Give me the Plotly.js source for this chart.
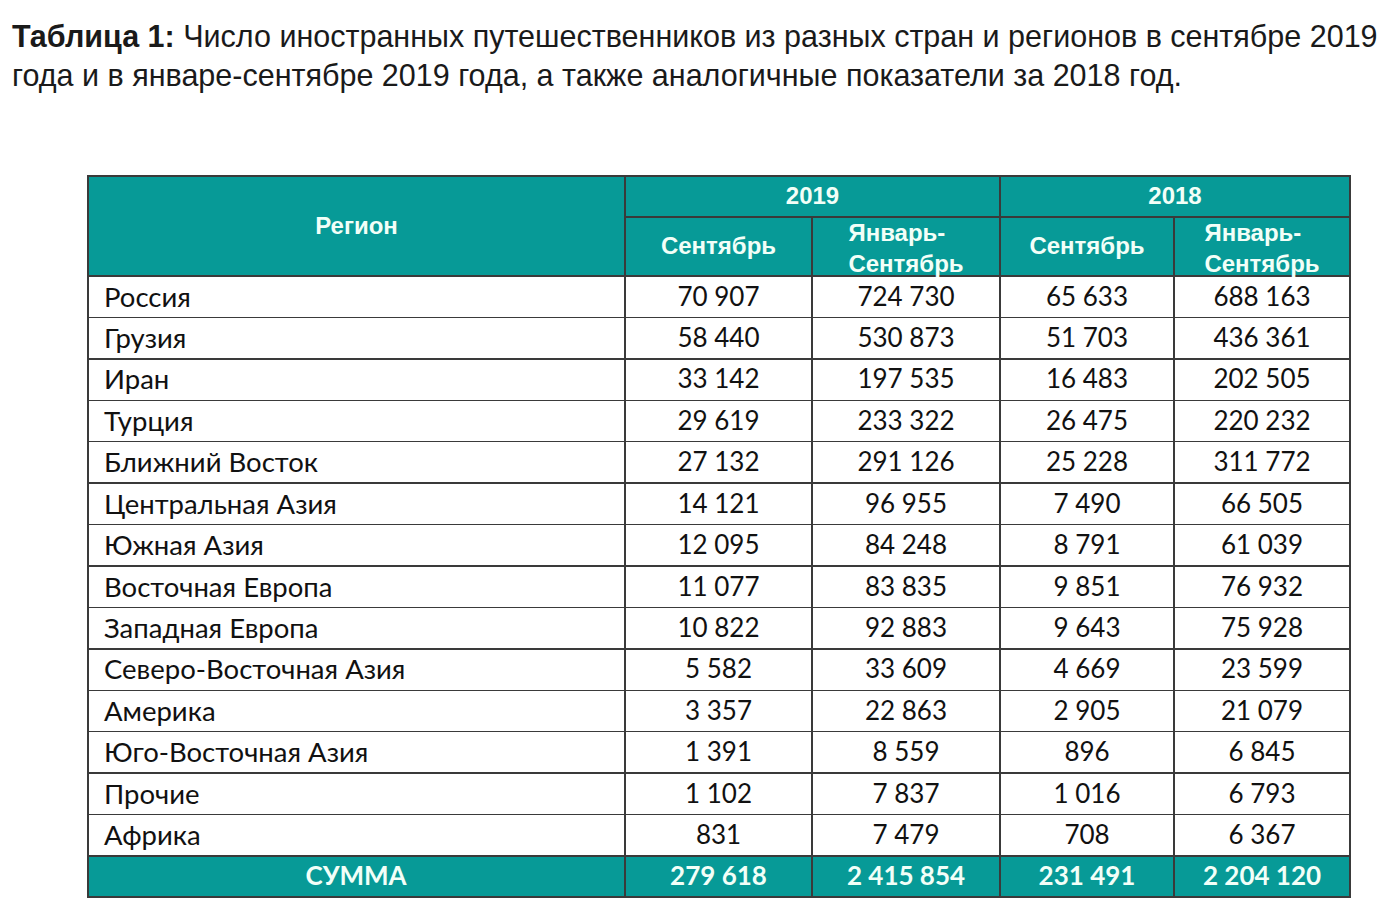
<!DOCTYPE html>
<html>
<head>
<meta charset="utf-8">
<script src="https://cdn.plot.ly/plotly-3.0.1.min.js"></script>
<style>html,body{margin:0;padding:0;background:#fff;}#chart{width:1392px;height:924px;}</style>
</head>
<body>
<div id="chart"></div>
<div id="err" style="position:absolute;left:0;top:905px;font:12px monospace;color:red"></div>
<script>
// ---- data ----
var regions = ["Россия","Грузия","Иран","Турция","Ближний Восток","Центральная Азия","Южная Азия",
  "Восточная Европа","Западная Европа","Северо-Восточная Азия","Америка","Юго-Восточная Азия","Прочие","Африка"];
var sep2019 = [70907,58440,33142,29619,27132,14121,12095,11077,10822,5582,3357,1391,1102,831];
var janSep2019 = [724730,530873,197535,233322,291126,96955,84248,83835,92883,33609,22863,8559,7837,7479];
var sep2018 = [65633,51703,16483,26475,25228,7490,8791,9851,9643,4669,2905,896,1016,708];
var janSep2018 = [688163,436361,202505,220232,311772,66505,61039,76932,75928,23599,21079,6845,6793,6367];
var totalLabel = "СУММА";
var totals = [279618, 2415854, 231491, 2204120];
var years = ["2019", "2018"];
var subHeaders = ["Сентябрь", "Январь-<br>Сентябрь", "Сентябрь", "Январь-<br>Сентябрь"];
var regionHeader = "Регион";
var titleBold = "Таблица 1:";
var titleLine1 = " Число иностранных путешественников из разных стран и регионов в сентябре 2019";
var titleLine2 = "года и в январе-сентябре 2019 года, а также аналогичные показатели за 2018 год.";

window.onerror = function(m){ document.getElementById("err").textContent += m + " | "; };

// ---- helpers ----
function fmt(n){ return String(n).replace(/\B(?=(\d{3})+(?!\d))/g, " "); }
function bold(s){ return "<b>" + s + "</b>"; }
function blanks(n){ var a = []; for (var i = 0; i < n; i++) a.push(""); return a; }
function emptyCells(n){ var a = []; for (var i = 0; i < n; i++) a.push([]); return a; }
var W = 1392, H = 924;
var TEAL = "#079a97", LINE = "#3a3a3a", HEADTXT = "#f2fff8", NONE = "rgba(0,0,0,0)";
var colW = [537, 187, 188, 174, 176];
var x0 = 88, x1 = 1350, xSplit = x0 + colW[0];
var yTop = 176, yMid = 217, yBody = 276, yTotal = 856, totalH = 41;
var rowH = (yTotal - yBody) / regions.length;
var textPadL = 8;
function px(x){ return x / W; }
function py(y){ return 1 - y / H; }

var headerFont = {family: "Liberation Sans, Arial, sans-serif", size: 24, color: HEADTXT};
var bodyFont = {family: "Lato, sans-serif", size: [27.5, 26, 26, 26, 26], color: "#111111"};
var totalFont = {family: "Lato, sans-serif", size: 26, color: HEADTXT};
var lineSpec = {color: LINE, width: 1.5};
var noLine = {color: NONE, width: 0};

function gridRow(top, h, cols, widths, xa, xb, fill, values, font, align) {
  return {
    type: "table",
    domain: {x: [px(xa), px(xb)], y: [py(top + h + 3), py(top)]},
    columnwidth: widths,
    header: {values: values || blanks(cols), height: h, fill: {color: fill}, line: lineSpec,
             font: font || headerFont, align: align || "center"},
    cells: {values: emptyCells(cols)}
  };
}
function textRow(top, widths, xa, xb, values, font, align) {
  return {
    type: "table",
    domain: {x: [px(xa), px(xb)], y: [py(Math.min(top + 90, H)), py(top)]},
    columnwidth: widths,
    header: {values: values, height: 30, fill: {color: NONE}, line: noLine, font: font, align: align},
    cells: {values: emptyCells(values.length)}
  };
}

var traces = [];

// top header row: years spanning two columns each
traces.push(gridRow(yTop, yMid - yTop, 3, [colW[0], colW[1] + colW[2], colW[3] + colW[4]], x0, x1, TEAL));
// sub-header row grid
traces.push(gridRow(yMid, yBody - yMid, 5, colW, x0, x1, TEAL));
// body row grids
regions.forEach(function(r, i) {
  traces.push(gridRow(yBody + i * rowH, rowH, 5, colW, x0, x1, "#ffffff"));
});
// total row grid
traces.push(gridRow(yTotal, totalH, 5, colW, x0, x1, TEAL));
// region header box spanning both header rows
traces.push(gridRow(yTop, yBody - yTop, 1, [colW[0]], x0, xSplit, TEAL));

// header texts
traces.push(textRow(yTop - 2, [colW[0], colW[1] + colW[2], colW[3] + colW[4]], x0, x1,
  ["", bold(years[0]), bold(years[1])], headerFont, "center"));
traces.push(textRow(204, [colW[0]], x0, xSplit, [bold(regionHeader)], headerFont, "center"));
traces.push(textRow(224, colW.slice(1), xSplit, x1,
  subHeaders.map(function(s){ return s.indexOf("<br>") < 0 ? bold(s) : ""; }), headerFont, "center"));
traces.push(textRow(211, colW.slice(1), xSplit, x1,
  subHeaders.map(function(s){ return s.indexOf("<br>") >= 0 ? bold(s) : ""; }), headerFont, "center"));

// body texts
var bodyWidths = [colW[0] - textPadL].concat(colW.slice(1));
regions.forEach(function(r, i) {
  traces.push(textRow(yBody + i * rowH + 2, bodyWidths, x0 + textPadL, x1,
    [r, fmt(sep2019[i]), fmt(janSep2019[i]), fmt(sep2018[i]), fmt(janSep2018[i])],
    bodyFont, ["left", "center", "center", "center", "center"]));
});
// total texts
traces.push(textRow(yTotal - 5.5, colW, x0, x1,
  [bold(totalLabel)].concat(totals.map(function(t){ return bold(fmt(t)); })), totalFont, "center"));

var titleFont = {family: "Liberation Sans, Arial, sans-serif", size: 30.5, color: "#1a1a1a"};
var layout = {
  width: W, height: H,
  margin: {l: 0, r: 0, t: 0, b: 0},
  paper_bgcolor: "#ffffff",
  showlegend: false,
  annotations: [
    {text: bold(titleBold) + titleLine1, xref: "paper", yref: "paper", x: px(10), y: py(37),
     xanchor: "left", yanchor: "middle", showarrow: false, font: titleFont, align: "left"},
    {text: titleLine2, xref: "paper", yref: "paper", x: px(10), y: py(75),
     xanchor: "left", yanchor: "middle", showarrow: false, font: titleFont, align: "left"}
  ]
};

Plotly.newPlot("chart", traces, layout, {displayModeBar: false, staticPlot: true})
  .catch(function(e){ document.getElementById("err").textContent += String(e); });
</script>
</body>
</html>
